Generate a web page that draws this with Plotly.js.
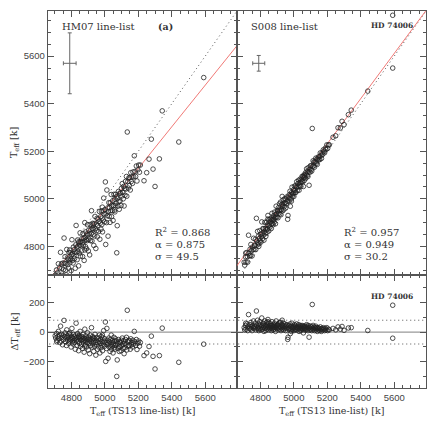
<!DOCTYPE html>
<html>
<head>
<meta charset="utf-8">
<script src="https://cdn.plot.ly/plotly-3.0.1.min.js"></script>
<style>
  html, body { margin: 0; padding: 0; background: #fff; }
  #chart { width: 436px; height: 436px; }
</style>
</head>
<body>
<div id="chart"></div>
<script>
// Teff from the TS13 line-list (shared x of all four panels)
var teffTS13 = [
  4703,4706,4711,4714,4719,4722,4724,4729,4731,4735,
  4738,4741,4743,4747,4750,4752,4756,4759,4762,4765,
  4767,4770,4772,4776,4778,4781,4783,4785,4788,4791,
  4793,4796,4798,4801,4803,4806,4808,4810,4812,4815,
  4817,4819,4821,4823,4826,4828,4830,4832,4834,4837,
  4839,4841,4843,4845,4847,4850,4852,4854,4856,4858,
  4861,4863,4865,4867,4869,4871,4873,4876,4878,4880,
  4882,4884,4886,4888,4890,4892,4894,4896,4898,4901,
  4903,4905,4907,4909,4912,4914,4916,4918,4920,4923,
  4925,4927,4929,4932,4934,4936,4939,4941,4943,4946,
  4948,4951,4953,4955,4958,4960,4963,4965,4967,4970,
  4972,4975,4977,4979,4982,4984,4986,4989,4991,4993,
  4996,4998,5000,5003,5005,5007,5010,5012,5014,5017,
  5019,5021,5024,5026,5028,5031,5033,5035,5038,5040,
  5042,5045,5047,5049,5052,5054,5057,5059,5062,5064,
  5066,5069,5071,5074,5076,5079,5081,5084,5086,5089,
  5091,5094,5097,5099,5102,5104,5107,5110,5112,5115,
  5118,5120,5123,5126,5129,5131,5134,5137,5140,5143,
  5146,5149,5152,5155,5158,5162,5165,5168,5172,5176,
  5180,5184,5188,5192,5197,5202,5207,5212,
  4712,4790,4845,4880,4930,4985,5060,
  5234,5250,5264,5278,5288,5300,5326,5343,5442,5591,5591
];

// Delta Teff = Teff(HM07) - Teff(TS13)
var deltaHM07 = [
  -25,-40,-10,-55,-30,5,-45,-20,-70,40,
  -60,-15,-35,-85,-20,-50,79,-30,-5,-65,
  -40,-90,15,-25,-55,-35,-75,-10,-45,-60,
  -20,-50,-100,-35,25,-65,-40,-80,-15,-55,
  -30,-70,-45,-115,-20,60,-55,-35,-90,-10,
  -60,-40,-125,-25,-75,-45,5,-95,-35,-55,
  -80,-30,-50,-110,-15,-65,-40,-135,-55,20,
  -45,-85,-25,-60,-100,-40,-70,-5,-50,-120,
  -35,-75,-55,-145,-20,-90,-45,-65,30,-100,
  -50,-30,-80,-60,-130,-40,-95,-15,-70,-155,
  -55,-85,-35,-115,-70,-45,-100,-60,-20,-140,
  -75,-50,-105,-30,-90,-65,-125,-40,-80,10,
  -60,-95,-45,68,-197,-70,-110,25,-85,-55,
  -176,-75,-40,-100,-65,-130,-50,-85,-20,-115,
  -70,-95,-55,-140,-80,-35,-105,-60,-90,-45,
  -85,-60,-298,-187,-75,-110,-50,-95,-130,-65,
  -100,-70,-125,-55,-90,-40,-80,-110,-60,-145,
  -75,-105,-50,-85,-35,-120,147,-65,-95,-55,
  -90,-60,-115,-45,-85,-70,-100,-55,-80,5,
  -65,-90,-50,-117,-75,-60,-95,-70,
  -65,-5,-30,-95,-40,-20,-115,
  -158,-140,-97,-27,-163,-248,-158,27,-203,-81,null
];

// Delta Teff = Teff(S008) - Teff(TS13)
var deltaS008 = [
  30,15,45,20,55,35,10,118,40,25,
  50,20,65,35,10,45,30,75,25,40,
  35,60,15,142,45,25,80,30,55,20,
  40,70,25,50,15,35,95,45,20,60,
  30,55,5,40,75,25,45,10,35,65,
  20,50,30,85,40,15,60,35,25,45,
  55,30,10,45,70,25,40,15,50,35,
  20,60,35,45,5,30,75,40,25,50,
  45,15,55,30,40,65,20,35,66,10,
  30,50,20,45,35,60,15,40,25,55,
  35,10,45,25,50,30,-49,-35,40,20,
  45,25,55,-10,35,15,40,60,20,30,
  25,40,10,50,30,20,45,15,35,55,
  30,15,40,25,50,5,35,20,45,30,
  10,35,25,45,20,40,-5,30,15,35,
  25,40,15,30,50,20,35,10,45,25,
  -34,30,15,40,20,35,10,186,25,45,
  20,35,10,30,25,40,15,30,5,25,
  30,15,25,10,35,20,5,25,15,30,
  20,10,25,15,30,10,20,15,
  60,10,70,30,80,5,40,
  25,15,35,20,38,12,28,30,11,181,-41
];

// fit lines (slope, intercept) for HM07 and S008 panels
var fitSlope = [0.875, 0.949];
var fitIntercept = [578, 297];
var statLines = [
  ['R<sup>2</sup> = 0.868', '\u03b1 = 0.875', '\u03c3 = 49.5'],
  ['R<sup>2</sup> = 0.957', '\u03b1 = 0.949', '\u03c3 = 30.2']
];
var panelNames = ['HM07 line-list', 'S008 line-list'];

// typical error cross: centre and half widths
var errCentre = [4790, 5570];
var errXHalf = [38, 36];
var errYHalf = [128, 33];

var residLimit = [80, -80];

var xRange = [4660, 5790];
var yRange = [4680, 5790];
var dRange = [-376, 385];

var teffHM07 = teffTS13.map(function (t, i) { return deltaHM07[i] === null ? null : t + deltaHM07[i]; });
var teffS008 = teffTS13.map(function (t, i) { return t + deltaS008[i]; });

var ink = '#333';
var frame = '#555';
var circle = { symbol: 'circle-open', size: 4.6, color: '#222', line: { width: 0.8, color: '#222' } };

var data = [];
var tops = [teffHM07, teffS008];
var deltas = [deltaHM07, deltaS008];

for (var p = 0; p < 2; p++) {
  var xa = p === 0 ? 'x' : 'x2';
  var ya = p === 0 ? 'y' : 'y2';
  var xb = p === 0 ? 'x3' : 'x4';
  var yb = p === 0 ? 'y3' : 'y4';

  // one-to-one line
  data.push({ x: [4500, 6000], y: [4500, 6000], xaxis: xa, yaxis: ya, mode: 'lines',
    line: { color: '#555', width: 1, dash: '1px,3px' }, hoverinfo: 'skip' });
  // regression line
  data.push({ x: [4500, 6000],
    y: [fitSlope[p] * 4500 + fitIntercept[p], fitSlope[p] * 6000 + fitIntercept[p]],
    xaxis: xa, yaxis: ya, mode: 'lines', line: { color: '#ee6a66', width: 0.9 }, hoverinfo: 'skip' });
  // stars
  data.push({ x: teffTS13, y: tops[p], xaxis: xa, yaxis: ya, mode: 'markers', marker: circle });
  // error cross
  data.push({ x: [errCentre[0]], y: [errCentre[1]], xaxis: xa, yaxis: ya, mode: 'markers',
    marker: { size: 1, color: 'rgba(0,0,0,0)' },
    error_x: { type: 'data', array: [errXHalf[p]], color: '#666', thickness: 1, width: 2 },
    error_y: { type: 'data', array: [errYHalf[p]], color: '#666', thickness: 1, width: 2 } });

  // residual panel: zero line and limits
  data.push({ x: [4500, 6000], y: [0, 0], xaxis: xb, yaxis: yb, mode: 'lines',
    line: { color: '#999', width: 1.4 }, hoverinfo: 'skip' });
  for (var k = 0; k < residLimit.length; k++) {
    data.push({ x: [4500, 6000], y: [residLimit[k], residLimit[k]], xaxis: xb, yaxis: yb, mode: 'lines',
      line: { color: '#555', width: 1, dash: '1px,3px' }, hoverinfo: 'skip' });
  }
  data.push({ x: teffTS13, y: deltas[p], xaxis: xb, yaxis: yb, mode: 'markers', marker: circle });
}

function axis(domain, anchor, range, dtick, minor, labels) {
  return {
    domain: domain, anchor: anchor, range: range,
    tick0: 0, dtick: dtick, ticks: 'inside', ticklen: 6, tickwidth: 1, tickcolor: frame,
    minor: { dtick: minor, ticks: 'inside', ticklen: 3, tickwidth: 1, tickcolor: frame, showgrid: false },
    mirror: 'ticks', showline: true, linecolor: frame, linewidth: 1.2,
    showgrid: false, zeroline: false, showticklabels: labels,
    tickfont: { family: 'Liberation Sans, Arial, sans-serif', size: 9.5, color: '#444' }
  };
}

var serif = 'DejaVu Serif, serif';
var ann = [];
for (var q = 0; q < 2; q++) {
  var xa2 = q === 0 ? 'x' : 'x2';
  var ya2 = q === 0 ? 'y' : 'y2';
  ann.push({ xref: xa2, yref: ya2, x: 4732, y: 5724, xanchor: 'left', yanchor: 'middle',
    text: panelNames[q], showarrow: false, font: { family: serif, size: 10, color: ink } });
  for (var s = 0; s < 3; s++) {
    ann.push({ xref: xa2, yref: ya2, x: 5288, y: 4860 - s * 50.5, xanchor: 'left', yanchor: 'middle',
      text: statLines[q][s], showarrow: false, font: { family: serif, size: 10, color: ink } });
  }
  ann.push({ xref: 'paper', yref: 'paper', x: q === 0 ? 0.25 : 0.75, y: -0.062,
    xanchor: 'center', yanchor: 'middle', text: 'T<sub>eff</sub> (TS13 line-list) [k]',
    showarrow: false, font: { family: serif, size: 9.5, color: ink } });
}
ann.push({ xref: 'x', yref: 'y', x: 5360, y: 5724, xanchor: 'center', yanchor: 'middle',
  text: '<b>(a)</b>', showarrow: false, font: { family: serif, size: 9.5, color: ink } });
ann.push({ xref: 'x2', yref: 'y2', x: 5447, y: 5731, xanchor: 'left', yanchor: 'middle',
  text: '<b>HD 74006</b>', showarrow: false, font: { family: serif, size: 7.5, color: ink } });
ann.push({ xref: 'x4', yref: 'y4', x: 5447, y: 239, xanchor: 'left', yanchor: 'middle',
  text: '<b>HD 74006</b>', showarrow: false, font: { family: serif, size: 7.5, color: ink } });
ann.push({ xref: 'paper', yref: 'paper', x: -0.087, y: 0.65, textangle: -90,
  xanchor: 'center', yanchor: 'middle', text: 'T<sub>eff</sub> [k]',
  showarrow: false, font: { family: serif, size: 9.5, color: ink } });
ann.push({ xref: 'paper', yref: 'paper', x: -0.087, y: 0.15, textangle: -90,
  xanchor: 'center', yanchor: 'middle', text: '\u0394T<sub>eff</sub> [k]',
  showarrow: false, font: { family: serif, size: 9.5, color: ink } });

var layout = {
  width: 436, height: 436,
  margin: { l: 48, r: 10, t: 11, b: 48 },
  paper_bgcolor: '#fff', plot_bgcolor: '#fff',
  showlegend: false,
  xaxis: axis([0, 0.5], 'y', xRange, 200, 50, false),
  yaxis: axis([0.3, 1], 'x', yRange, 200, 50, true),
  xaxis2: axis([0.5, 1], 'y2', xRange, 200, 50, false),
  yaxis2: axis([0.3, 1], 'x2', yRange, 200, 50, false),
  xaxis3: axis([0, 0.5], 'y3', xRange, 200, 50, true),
  yaxis3: axis([0, 0.3], 'x3', dRange, 200, 100, true),
  xaxis4: axis([0.5, 1], 'y4', xRange, 200, 50, true),
  yaxis4: axis([0, 0.3], 'x4', dRange, 200, 100, false),
  annotations: ann
};

Plotly.newPlot('chart', data, layout, { displayModeBar: false, staticPlot: true });
</script>
</body>
</html>
